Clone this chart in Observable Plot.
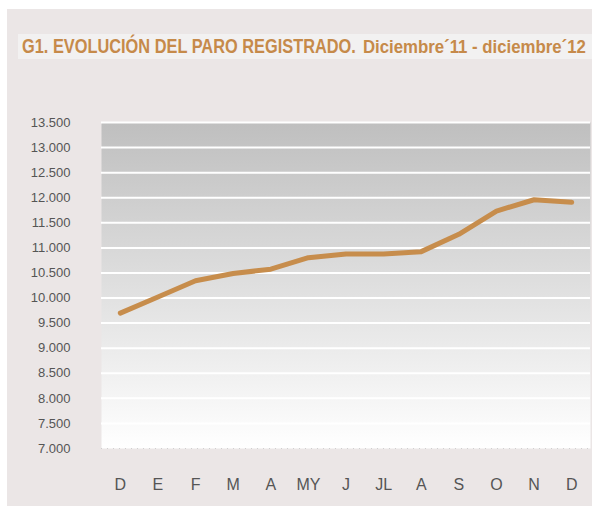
<!DOCTYPE html>
<html>
<head>
<meta charset="utf-8">
<script src="https://cdn.jsdelivr.net/npm/d3@7"></script>
<script src="https://cdn.jsdelivr.net/npm/@observablehq/plot@0.6"></script>
<style>
  html, body { margin: 0; padding: 0; background: #fff; }
  #wrap { position: relative; width: 592px; height: 506px; overflow: hidden; }
  #panel { position: absolute; left: 7px; top: 9px; width: 585px; height: 497px; background: #ebe6e6; }
  #title { position: absolute; left: 0; top: 0; }
  #chart { position: absolute; left: 0; top: 0; }
  .tt { font-family: 'Liberation Sans', Arial, sans-serif; font-weight: bold; fill: #c68a4a; }
</style>
</head>
<body>
<div id="wrap">
  <div id="panel"></div>
  <svg id="title" width="592" height="70">
    <rect x="18" y="34" width="574" height="25" fill="#f2f1f1"></rect>
    <text id="t1" class="tt" x="0" y="0" font-size="20">G1. EVOLUCIÓN DEL PARO REGISTRADO.</text>
    <text id="t2" class="tt" x="0" y="0" font-size="18">Diciembre´11 - diciembre´12</text>
  </svg>
  <div id="chart"></div>
</div>
<script>
const months = ["D", "E", "F", "M", "A", "MY", "J", "JL", "A", "S", "O", "N", "D"];
const paro = [9700, 10020, 10345, 10490, 10575, 10805, 10880, 10880, 10925, 11270, 11735, 11960, 11910];
const yTicks = [7000, 7500, 8000, 8500, 9000, 9500, 10000, 10500, 11000, 11500, 12000, 12500, 13000, 13500];
const gridTicks = [7500, 8000, 8500, 9000, 9500, 10000, 10500, 11000, 11500, 12000, 12500, 13000, 13500];

// title fitting: condensed look via horizontal scaling
function fitText(id, x, y, w) {
  const t = document.getElementById(id);
  const natural = t.getComputedTextLength();
  const s = w / natural;
  t.setAttribute("transform", `translate(${x},${y}) scale(${s},1)`);
}
fitText("t1", 22, 53, 334);
fitText("t2", 363, 53, 223);

const data = months.map((m, i) => ({i, m, v: paro[i]}));
const fmt = d3.formatLocale({decimal: ",", thousands: ".", grouping: [3], currency: ["", "€"]}).format(",d");

const plot = Plot.plot({
  width: 592,
  height: 506,
  marginLeft: 101,
  marginRight: 2,
  marginTop: 122,
  marginBottom: 58,
  style: {background: "transparent", color: "#555", fontFamily: "'Liberation Sans', Arial, sans-serif", overflow: "visible"},
  x: {type: "point", domain: data.map(d => d.i), padding: 0.5, round: false, label: null},
  y: {domain: [7000, 13500], label: null},
  marks: [
    Plot.frame({fill: "url(#bgGrad)", stroke: "none"}),
    Plot.ruleY(gridTicks, {stroke: "#ffffff", strokeWidth: 2}),
    Plot.ruleY([7000], {stroke: "#cfcfcf", strokeDasharray: "1,5"}),
    Plot.line(data, {x: "i", y: "v", stroke: "#c78d4c", strokeWidth: 5, strokeLinecap: "round", strokeLinejoin: "round"}),
    Plot.axisY(yTicks, {tickSize: 0, tickPadding: 31, tickFormat: fmt, fontSize: 13, fill: "#555"}),
    Plot.axisX(data.map(d => d.i), {tickSize: 0, tickPadding: 30, tickFormat: i => months[i], fontSize: 16, fill: "#555"})
  ]
});

const ns = "http://www.w3.org/2000/svg";
const defs = document.createElementNS(ns, "defs");
const grad = document.createElementNS(ns, "linearGradient");
grad.setAttribute("id", "bgGrad");
grad.setAttribute("x1", "0"); grad.setAttribute("y1", "0");
grad.setAttribute("x2", "0"); grad.setAttribute("y2", "1");
[["0", "#bfbfbf"], ["1", "#ffffff"]].forEach(([o, c]) => {
  const s = document.createElementNS(ns, "stop");
  s.setAttribute("offset", o);
  s.setAttribute("stop-color", c);
  grad.appendChild(s);
});
defs.appendChild(grad);
plot.insertBefore(defs, plot.firstChild);
document.getElementById("chart").appendChild(plot);
</script>
</body>
</html>
